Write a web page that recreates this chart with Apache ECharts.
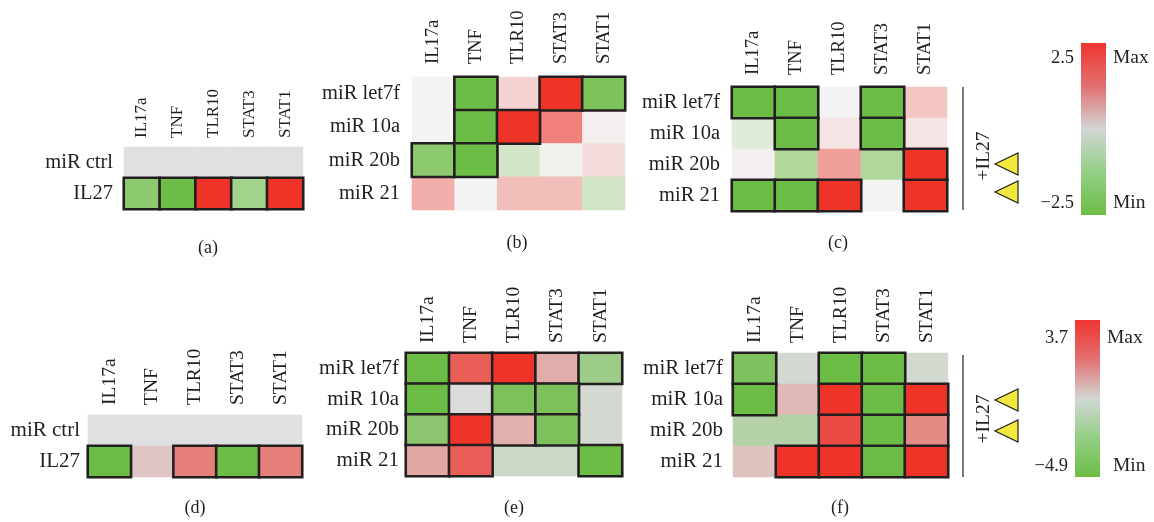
<!DOCTYPE html>
<html>
<head>
<meta charset="utf-8">
<script src="https://cdn.jsdelivr.net/npm/echarts@6/dist/echarts.min.js"></script>
<style>
  html, body { margin: 0; padding: 0; background: #ffffff; }
  #chart { width: 1154px; height: 522px; }
</style>
</head>
<body>
<div id="chart"></div>
<script>
// Genes on the columns, conditions / miRNAs on the rows
const genes = ['IL17a', 'TNF', 'TLR10', 'STAT3', 'STAT1'];
const rowsIL27 = ['miR ctrl', 'IL27'];
const rowsMiR = ['miR let7f', 'miR 10a', 'miR 20b', 'miR 21'];

// Colour-scale limits (log fold change)
const scaleTop = [-2.5, 2.5];
const scaleBottom = [-4.9, 3.7];

// (a) IL27 vs control
const ctrlA = [0, 0, 0, 0, 0];
const il27A = [-1.9, -2.5, 2.5, -1.5, 2.5];
const sigA = [1, 1, 1, 1, 1];

// (b) miRNA mimics
const valuesB = [
  [0.0, -2.5, 0.4, 2.5, -2.2],
  [0.0, -2.5, 2.5, 1.5, 0.05],
  [-1.9, -2.5, -0.6, -0.1, 0.3],
  [0.9, 0.0, 0.7, 0.7, -0.65]
];
const sigB = [
  [0, 1, 0, 1, 1],
  [0, 1, 1, 0, 0],
  [1, 1, 0, 0, 0],
  [0, 0, 0, 0, 0]
];

// (c) miRNA mimics + IL27
const valuesC = [
  [-2.5, -2.5, 0.0, -2.5, 0.6],
  [-0.35, -2.5, 0.2, -2.5, 0.2],
  [0.05, -1.25, 1.1, -1.25, 2.5],
  [-2.5, -2.5, 2.5, 0.0, 2.5]
];
const sigC = [
  [1, 1, 0, 1, 0],
  [0, 1, 0, 1, 0],
  [0, 0, 0, 0, 1],
  [1, 1, 1, 0, 1]
];

// (d) IL27 vs control
const ctrlD = [0, 0, 0, 0, 0];
const il27D = [-4.9, 0.0, 1.75, -4.9, 1.75];
const sigD = [1, 0, 1, 1, 1];

// (e) miRNA mimics
const valuesE = [
  [-4.9, 2.6, 3.7, 0.6, -3.0],
  [-4.9, -0.6, -4.3, -4.3, -0.95],
  [-3.7, 3.7, 0.5, -4.3, -0.95],
  [0.7, 2.6, -1.2, -1.2, -4.9]
];
const sigE = [
  [1, 1, 1, 1, 1],
  [1, 1, 1, 1, 0],
  [1, 1, 1, 1, 0],
  [1, 1, 0, 0, 1]
];

// (f) miRNA mimics + IL27
const valuesF = [
  [-4.2, -0.95, -4.9, -4.9, -1.0],
  [-4.9, 0.3, 3.7, -4.9, 3.7],
  [-2.1, -2.1, 3.1, -4.9, 1.5],
  [0.05, 3.7, 3.7, -4.9, 3.7]
];
const sigF = [
  [1, 0, 1, 1, 0],
  [1, 0, 1, 1, 1],
  [0, 0, 1, 1, 1],
  [0, 1, 1, 1, 1]
];

const INK = '#231f20';
const SERIF = '"Liberation Serif", "Times New Roman", serif';

// Turn a matrix into heatmap items; outlined (significant) cells go last so their frame stays on top
function cells(matrix, sig, rowOffset) {
  const plain = [], framed = [];
  matrix.forEach((row, r) => row.forEach((v, c) => {
    const item = { value: [c, r + rowOffset, v] };
    if (sig[r][c]) {
      item.itemStyle = { borderColor: INK, borderWidth: 2.6 };
      framed.push(item);
    } else {
      plain.push(item);
    }
  }));
  return plain.concat(framed);
}

const grids = [
  { left: 124, top: 147, width: 179, height: 62 },  // a
  { left: 412, top: 77,  width: 213, height: 133 }, // b
  { left: 732, top: 87,  width: 215, height: 124 }, // c
  { left: 88,  top: 415, width: 214, height: 62 },  // d
  { left: 406, top: 353, width: 216, height: 123 }, // e
  { left: 733, top: 353, width: 215, height: 124 }  // f
];
const rowSets = [rowsIL27, rowsMiR, rowsMiR, rowsIL27, rowsMiR, rowsMiR];
const colFont = [17, 18.5, 18.5, 19.5, 19.5, 19.5];
const colGap = [9, 13, 12, 10, 10, 10];
const rowFont = [20.5, 20.5, 20.5, 21, 21, 21];
const rowGap = [11, 12, 12, 8, 7, 10];

const xAxes = grids.map((g, i) => ({
  type: 'category', gridIndex: i, data: genes, position: 'top',
  axisLine: { show: false }, axisTick: { show: false }, splitLine: { show: false },
  axisLabel: { rotate: -90, margin: colGap[i], color: INK, fontFamily: SERIF, fontSize: colFont[i] }
}));
const yAxes = grids.map((g, i) => ({
  type: 'category', gridIndex: i, data: rowSets[i], inverse: true,
  axisLine: { show: false }, axisTick: { show: false }, splitLine: { show: false },
  axisLabel: { margin: rowGap[i], color: INK, fontFamily: SERIF, fontSize: rowFont[i] }
}));

function heat(idx, data) {
  return {
    type: 'heatmap', xAxisIndex: idx, yAxisIndex: idx, data: data,
    emphasis: { disabled: true }, silent: true, animation: false
  };
}

const zeroSig = [[0, 0, 0, 0, 0]];
const series = [
  heat(0, cells([ctrlA], zeroSig, 0)),  // 0 ctrl a
  heat(0, cells([il27A], [sigA], 1)),   // 1 IL27 a
  heat(1, cells(valuesB, sigB, 0)),     // 2 b
  heat(2, cells(valuesC, sigC, 0)),     // 3 c
  heat(3, cells([ctrlD], zeroSig, 0)),  // 4 ctrl d
  heat(3, cells([il27D], [sigD], 1)),   // 5 IL27 d
  heat(4, cells(valuesE, sigE, 0)),     // 6 e
  heat(5, cells(valuesF, sigF, 0))      // 7 f
];

const visualMap = [
  { type: 'continuous', show: false, seriesIndex: [1, 2, 3], dimension: 2,
    min: scaleTop[0], max: scaleTop[1],
    inRange: { color: ['#6cbd45', '#f4f3f3', '#ee3429'] } },
  { type: 'continuous', show: false, seriesIndex: [5, 6, 7], dimension: 2,
    min: scaleBottom[0], max: scaleBottom[1],
    inRange: { color: ['#6cbd45', '#dcdcdc', '#ee3429'] } },
  { type: 'continuous', show: false, seriesIndex: [0, 4], dimension: 2,
    min: -1, max: 1,
    inRange: { color: ['#dfe0e2', '#dfe0e2'] } }
];

function txt(text, x, y, size, align, extra) {
  return Object.assign({
    type: 'text', x: x, y: y, silent: true,
    style: { text: text, fill: INK, font: size + 'px ' + SERIF,
      align: align, textAlign: align, verticalAlign: 'middle', textVerticalAlign: 'middle' }
  }, extra || {});
}
function colorBar(x, y, w, h) {
  return {
    type: 'rect', silent: true, shape: { x: x, y: y, width: w, height: h },
    style: { fill: new echarts.graphic.LinearGradient(0, 0, 0, 1, [
      { offset: 0, color: '#ee3530' },
      { offset: 0.25, color: '#e27070' },
      { offset: 0.5, color: '#d2d6d4' },
      { offset: 0.75, color: '#94cf86' },
      { offset: 1, color: '#6cbd45' }
    ]) }
  };
}
function triangle(tipX, cy) {
  return {
    type: 'polygon', silent: true,
    shape: { points: [[tipX + 23, cy - 11], [tipX + 23, cy + 11], [tipX, cy]] },
    style: { fill: '#f2e93c', stroke: INK, lineWidth: 1.2 }
  };
}
function sideBar(x, y1, y2) {
  return { type: 'line', silent: true, shape: { x1: x, y1: y1, x2: x, y2: y2 },
    style: { stroke: '#4d4d4d', lineWidth: 1.5 } };
}

const graphic = [
  // panel captions
  txt('(a)', 208, 248, 18, 'center'),
  txt('(b)', 517, 243, 18, 'center'),
  txt('(c)', 838, 243, 18, 'center'),
  txt('(d)', 195, 508, 18, 'center'),
  txt('(e)', 514, 508, 18, 'center'),
  txt('(f)', 840, 508, 18, 'center'),
  // +IL27 brackets
  sideBar(963, 87, 210),
  txt('+IL27', 984, 156, 19.5, 'center', { rotation: Math.PI / 2 }),
  triangle(995, 164),
  triangle(995, 192),
  sideBar(963, 355, 477),
  txt('+IL27', 984, 419, 19.5, 'center', { rotation: Math.PI / 2 }),
  triangle(995, 400),
  triangle(995, 431),
  // colour bars
  colorBar(1081, 43, 25, 172),
  txt(String(scaleTop[1]), 1074, 58, 18.5, 'right'),
  txt('\u2212' + Math.abs(scaleTop[0]), 1074, 203, 18.5, 'right'),
  txt('Max', 1113, 58, 19.5, 'left'),
  txt('Min', 1113, 203, 19.5, 'left'),
  colorBar(1075, 320, 25, 157),
  txt(String(scaleBottom[1]), 1068, 338, 18.5, 'right'),
  txt('\u2212' + Math.abs(scaleBottom[0]), 1068, 466, 18.5, 'right'),
  txt('Max', 1107, 338, 19.5, 'left'),
  txt('Min', 1113, 466, 19.5, 'left')
];

const chart = echarts.init(document.getElementById('chart'), null, { renderer: 'canvas' });
chart.setOption({
  animation: false,
  backgroundColor: '#ffffff',
  grid: grids,
  xAxis: xAxes,
  yAxis: yAxes,
  visualMap: visualMap,
  series: series,
  graphic: graphic
});
</script>
</body>
</html>
